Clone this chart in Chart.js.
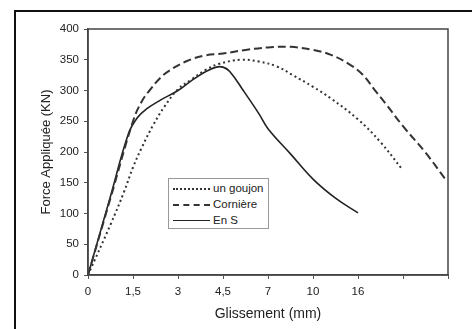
<!DOCTYPE html>
<html><head><meta charset="utf-8">
<script src="https://cdn.jsdelivr.net/npm/chart.js@4/dist/chart.umd.min.js"></script>
<style>
html,body{margin:0;padding:0;background:#fff;}
#wrap{position:relative;width:472px;height:329px;overflow:hidden;}
#frame{position:absolute;left:14px;top:10px;width:470px;height:340px;border-left:2px solid #111;border-top:2px solid #111;}
canvas{position:absolute;left:0;top:0;}
#legend{position:absolute;left:168px;top:178px;width:99px;height:49px;border:1px solid #999;background:#fff;font-family:"Liberation Sans",Arial,sans-serif;font-size:11.5px;color:#222;}
.row{position:absolute;left:4px;height:14px;}
.smp{position:absolute;left:0;top:7px;width:37px;height:0;}
.lab{position:absolute;left:40px;top:0;line-height:14px;white-space:nowrap;}
</style></head>
<body><div id="wrap"><div id="frame"></div><canvas id="c" width="472" height="329"></canvas>
<div id="legend">
 <div class="row" style="top:2px"><div class="smp" style="border-top:2px dotted #333"></div><div class="lab">un goujon</div></div>
 <div class="row" style="top:18px"><div class="smp" style="border-top:2px dashed #333"></div><div class="lab">Cornière</div></div>
 <div class="row" style="top:34px"><div class="smp" style="border-top:1.5px solid #222"></div><div class="lab">En S</div></div>
</div></div>
<script>
// Category tick labels (equally spaced on the axis)
const xLabels = ["0", "1,5", "3", "4,5", "7", "10", "16", "", ""];
const yTicks = [0, 50, 100, 150, 200, 250, 300, 350, 400];

// Series: position along the category axis (index units) and force (kN)
const goujonX = [0, 0.5, 0.8, 1.0, 1.2, 1.45, 1.7, 2.0, 2.3, 2.6, 2.9, 3.4, 3.8, 4.2, 4.55, 5.0, 5.4, 6.0, 6.5, 6.98];
const goujonY = [0, 82, 135, 175, 208, 244, 274, 302, 318, 333, 343, 350, 347, 339, 325, 306, 287, 253, 216, 172];

const corniereX = [0, 0.5, 1.0, 1.2, 1.4, 1.6, 1.8, 2.2, 2.6, 3.0, 3.5, 4.0, 4.5, 5.0, 5.4, 5.8, 6.1, 6.4, 6.6, 7.0, 7.5, 7.93];
const corniereY = [0, 125, 250, 283, 303, 320, 332, 348, 357, 360, 366, 370, 371, 366, 358, 343, 326, 298, 280, 242, 199, 157];

const enSX = [0, 0.5, 0.9, 1.1, 1.3, 1.6, 2.0, 2.3, 2.6, 2.85, 3.0, 3.15, 3.45, 3.8, 4.0, 4.5, 5.0, 5.5, 6.0];
const enSY = [0, 128, 230, 256, 270, 284, 300, 316, 330, 338, 338, 331, 300, 262, 238, 197, 156, 125, 101];

const seriesNames = ["un goujon", "Cornière", "En S"];

const pts = (xs, ys) => xs.map((x, i) => ({x: x, y: ys[i]}));
const FONT = '"Liberation Sans", Arial, sans-serif';

const borderPlugin = {
  id: 'plotBorder',
  afterDraw(chart) {
    const {ctx, chartArea: a} = chart;
    ctx.save();
    ctx.strokeStyle = '#444';
    ctx.lineWidth = 1.5;
    ctx.strokeRect(a.left, a.top, a.right - a.left, a.bottom - a.top);
    ctx.restore();
  }
};

new Chart(document.getElementById('c'), {
  type: 'line',
  data: {
    datasets: [
      {label: seriesNames[0], data: pts(goujonX, goujonY), borderColor: '#333', borderWidth: 2, borderDash: [2, 3], pointRadius: 0, tension: 0.4, fill: false},
      {label: seriesNames[1], data: pts(corniereX, corniereY), borderColor: '#333', borderWidth: 2, borderDash: [8, 4], pointRadius: 0, tension: 0.4, fill: false},
      {label: seriesNames[2], data: pts(enSX, enSY), borderColor: '#222', borderWidth: 1.6, pointRadius: 0, tension: 0.4, fill: false}
    ]
  },
  options: {
    responsive: false,
    animation: false,
    events: [],
    layout: {padding: {top: 29, right: 24, bottom: 0, left: 0}},
    plugins: {legend: {display: false}, tooltip: {enabled: false}},
    scales: {
      x: {
        type: 'linear', min: 0, max: xLabels.length - 1,
        afterFit: s => { s.height = 54; },
        afterBuildTicks: s => { s.ticks = xLabels.map((l, i) => ({value: i})); },
        ticks: {autoSkip: false, maxRotation: 0, padding: 6, color: '#222', font: {family: FONT, size: 11.5},
                callback: v => xLabels[v]},
        grid: {drawOnChartArea: false, tickLength: 4, color: '#555'},
        border: {display: true, color: '#444', width: 1.5},
        title: {display: true, text: 'Glissement (mm)', color: '#222', font: {family: FONT, size: 14}, padding: {top: 0, bottom: 6}}
      },
      y: {
        min: 0, max: 400,
        afterFit: s => { s.width = 88; },
        afterBuildTicks: s => { s.ticks = yTicks.map(v => ({value: v})); },
        ticks: {padding: 5, color: '#222', font: {family: FONT, size: 11.5}},
        grid: {drawOnChartArea: false, tickLength: 4, color: '#555'},
        border: {display: true, color: '#444', width: 1.5},
        title: {display: true, text: 'Force Appliquée (KN)', color: '#222', font: {family: FONT, size: 13}, padding: {top: 39, bottom: 0}}
      }
    }
  },
  plugins: [borderPlugin]
});
</script></body></html>
